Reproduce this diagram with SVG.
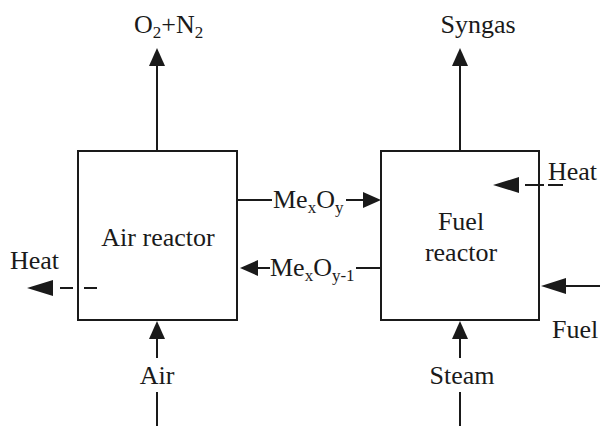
<svg xmlns="http://www.w3.org/2000/svg" width="602" height="426" viewBox="0 0 602 426">
<style>
.ln{stroke:#1a1a1a;stroke-width:2;fill:none}
.ds{stroke:#1a1a1a;stroke-width:2;fill:none;stroke-dasharray:13,11}
.box{stroke:#1a1a1a;stroke-width:2;fill:#fff}
.ah{fill:#1a1a1a}
.t{font-family:'Liberation Serif','Times New Roman','DejaVu Serif',serif;font-size:26px;fill:#1a1a1a}
.c{text-anchor:middle}
.sb{font-size:17px}
</style>
<rect width="602" height="426" fill="#fff"/>
<g id="air-reactor">
<rect class="box" x="78" y="151" width="159" height="169"/>
<text class="t c" x="158" y="246">Air reactor</text>
</g>
<g id="fuel-reactor">
<rect class="box" x="381" y="151" width="158" height="169"/>
<text class="t c" x="461" y="230">Fuel</text>
<text class="t c" x="461" y="261">reactor</text>
</g>
<g id="connectors">
<line class="ln" x1="157" y1="151" x2="157" y2="64"/>
<polygon class="ah" points="157,48 149,66 165,66"/>
<line class="ln" x1="460" y1="151" x2="460" y2="64"/>
<polygon class="ah" points="460,48 452,66 468,66"/>
<line class="ln" x1="237" y1="200" x2="272" y2="200"/>
<line class="ln" x1="346" y1="200" x2="366" y2="200"/>
<polygon class="ah" points="381,200 363,192 363,208"/>
<line class="ln" x1="356" y1="268" x2="381" y2="268"/>
<line class="ln" x1="256" y1="268" x2="270" y2="268"/>
<polygon class="ah" points="240,268 258,260 258,276"/>
<line class="ds" x1="97" y1="288" x2="50" y2="288"/>
<polygon class="ah" points="27,288 53,280 53,296"/>
<line class="ds" x1="563" y1="185" x2="518" y2="185" style="stroke-dasharray:15,4,19,30"/>
<polygon class="ah" points="493,185 519,177 519,193"/>
<line class="ln" x1="600" y1="286" x2="562" y2="286"/>
<polygon class="ah" points="541,286 566,278 566,294"/>
<line class="ln" x1="157" y1="358" x2="157" y2="336"/>
<polygon class="ah" points="157,321 149,339 165,339"/>
<line class="ln" x1="157" y1="392" x2="157" y2="426"/>
<line class="ln" x1="460" y1="358" x2="460" y2="336"/>
<polygon class="ah" points="460,321 452,339 468,339"/>
<line class="ln" x1="460" y1="392" x2="460" y2="426"/>
</g>
<g id="labels">
<text class="t" x="134" y="33">O<tspan class="sb" dy="5">2</tspan><tspan dy="-5">+N</tspan><tspan class="sb" dy="5">2</tspan></text>
<text class="t c" x="478" y="33">Syngas</text>
<text class="t" x="273" y="208">Me<tspan class="sb" dy="5">x</tspan><tspan dy="-5">O</tspan><tspan class="sb" dy="5">y</tspan></text>
<text class="t" x="270" y="276">Me<tspan class="sb" dy="5">x</tspan><tspan dy="-5">O</tspan><tspan class="sb" dy="5">y-1</tspan></text>
<text class="t" x="10" y="269">Heat</text>
<text class="t" x="548" y="180">Heat</text>
<text class="t" x="552" y="338">Fuel</text>
<text class="t c" x="157" y="384">Air</text>
<text class="t c" x="462" y="384">Steam</text>
</g>
</svg>
